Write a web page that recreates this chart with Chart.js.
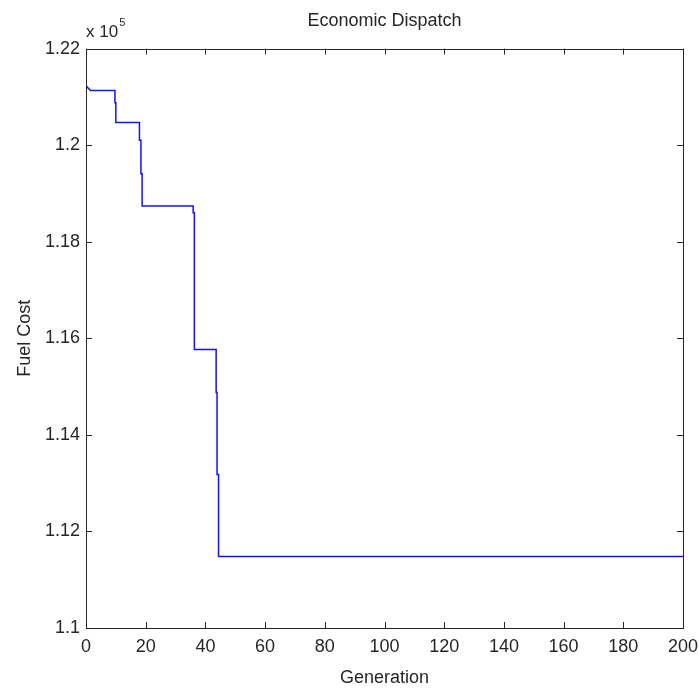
<!DOCTYPE html>
<html>
<head>
<meta charset="utf-8">
<script src="https://cdn.jsdelivr.net/npm/chart.js@4/dist/chart.umd.min.js"></script>
<style>
  html, body { margin: 0; padding: 0; background: #ffffff; }
  #wrap { width: 699px; height: 689px; }
</style>
</head>
<body>
<div id="wrap"><canvas id="c" width="699" height="689"></canvas></div>
<script>
// ---- data ----
const chartTitle = "Economic Dispatch";
const xAxisLabel = "Generation";
const yAxisLabel = "Fuel Cost";
const yExponent = 5;
// generation at which each vertex of the best-cost curve lies
const generations = [0, 1.5, 9.7, 9.7, 10.0, 10.0, 17.9, 17.9, 18.4, 18.4, 18.8, 18.8,
                     35.9, 35.9, 36.3, 36.3, 43.6, 43.6, 43.9, 43.9, 44.4, 44.4, 200];
// best fuel cost at those vertices
const fuelCost = [121230, 121130, 121130, 120880, 120880, 120470, 120470, 120100, 120100, 119410, 119410, 118740,
                  118740, 118600, 118600, 115770, 115770, 114880, 114880, 113180, 113180, 111480, 111480];
const xTicks = [0, 20, 40, 60, 80, 100, 120, 140, 160, 180, 200];
const yTicks = [1.10, 1.12, 1.14, 1.16, 1.18, 1.20, 1.22];

const FONT = '"Liberation Sans Narrow", "Liberation Sans", Arial, sans-serif';
const TXT = '#262626';
const AX = '#262626';

const points = generations.map((g, i) => ({ x: g, y: fuelCost[i] }));
const scaleF = Math.pow(10, yExponent);

const boxPlugin = {
  id: 'matlabBox',
  afterDraw(chart) {
    const { ctx, chartArea: a, scales } = chart;
    ctx.save();
    ctx.strokeStyle = AX;
    ctx.lineWidth = 1;
    ctx.strokeRect(Math.round(a.left) + 0.5, Math.round(a.top) + 0.5,
                   Math.round(a.right - a.left), Math.round(a.bottom - a.top));
    const tl = 6;
    ctx.beginPath();
    xTicks.forEach(v => {
      const px = Math.round(scales.x.getPixelForValue(v)) + 0.5;
      ctx.moveTo(px, a.bottom); ctx.lineTo(px, a.bottom - tl);
      ctx.moveTo(px, a.top); ctx.lineTo(px, a.top + tl);
    });
    yTicks.forEach(v => {
      const py = Math.round(scales.y.getPixelForValue(v * scaleF)) + 0.5;
      ctx.moveTo(a.left, py); ctx.lineTo(a.left + tl, py);
      ctx.moveTo(a.right, py); ctx.lineTo(a.right - tl, py);
    });
    ctx.stroke();
    // exponent label
    ctx.fillStyle = TXT;
    ctx.textBaseline = 'alphabetic';
    ctx.textAlign = 'left';
    ctx.font = '17px ' + FONT;
    ctx.fillText('x 10', a.left, a.top - 12);
    const w = ctx.measureText('x 10').width;
    ctx.font = '11px ' + FONT;
    ctx.fillText(String(yExponent), a.left + w + 1, a.top - 23);
    ctx.restore();
  }
};

new Chart(document.getElementById('c'), {
  type: 'scatter',
  data: {
    datasets: [{
      data: points,
      showLine: true,
      borderColor: '#1010ff',
      borderWidth: 1.5,
      pointRadius: 0,
      pointHoverRadius: 0,
      tension: 0,
      fill: false
    }]
  },
  options: {
    responsive: false,
    animation: false,
    layout: { padding: { left: 0, right: 0, top: 0, bottom: 0 } },
    plugins: {
      legend: { display: false },
      tooltip: { enabled: false },
      title: {
        display: true,
        text: chartTitle,
        fullSize: false,
        color: TXT,
        font: { family: FONT, size: 18, weight: 'normal' },
        padding: { top: 10, bottom: 17 }
      }
    },
    scales: {
      x: {
        type: 'linear',
        min: 0, max: 200,
        afterBuildTicks(s) { s.ticks = xTicks.map(v => ({ value: v })); },
        afterFit(s) { s.height = 61; s.paddingRight = 16; s.paddingLeft = 0; },
        grid: { display: false, drawTicks: false },
        border: { display: false },
        ticks: { color: TXT, padding: 8, maxRotation: 0, font: { family: FONT, size: 18 } },
        title: { display: true, text: xAxisLabel, color: TXT, padding: { top: 5, bottom: 0 },
                 font: { family: FONT, size: 18 } }
      },
      y: {
        type: 'linear',
        min: yTicks[0] * scaleF, max: yTicks[yTicks.length - 1] * scaleF,
        afterBuildTicks(s) { s.ticks = yTicks.map(v => ({ value: v * scaleF })); },
        afterFit(s) { s.width = 86; },
        grid: { display: false, drawTicks: false },
        border: { display: false },
        ticks: { color: TXT, padding: 6, font: { family: FONT, size: 18 },
                 callback: v => String(+(v / scaleF).toFixed(2)) },
        title: { display: true, text: yAxisLabel, color: TXT, padding: { top: 14, bottom: 0 },
                 font: { family: FONT, size: 18 } }
      }
    }
  },
  plugins: [boxPlugin]
});
</script>
</body>
</html>
